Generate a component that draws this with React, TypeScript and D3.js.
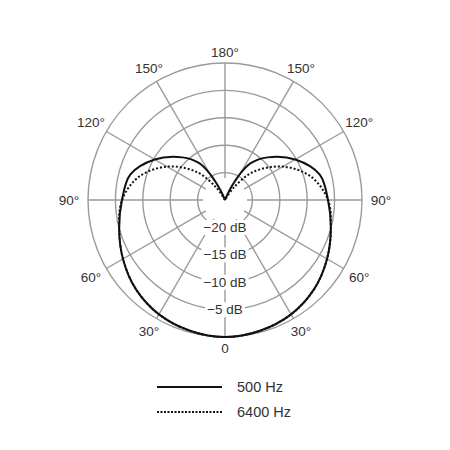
import React, { useRef, useEffect } from 'react';
import * as d3 from 'd3';

// angle measured from the front of the mic (0 = bottom), left/right are mirrored
const angles = [0, 15, 30, 45, 60, 75, 90, 105, 120, 135, 145, 150, 155, 160, 180];
const hz500 = [0, -0.3, -0.9, -2.0, -3.5, -5.0, -6.2, -7.1, -10.2, -14.0, -16.8, -19.5, -23, -25, -25];
const hz6400 = [0, -0.3, -0.9, -2.0, -3.5, -5.0, -6.2, -8.7, -12.8, -17.8, -22.3, -25, -25, -25, -25];

const ringLevels = [-20, -15, -10, -5, 0];
const ringLabels = ['\u221220 dB', '\u221215 dB', '\u221210 dB', '\u22125 dB'];
const spokeAngles = [0, 30, 60, 90, 120, 150, 180, 210, 240, 270, 300, 330];
const angleLabels = [0, 30, 60, 90, 120, 150, 180];

const series = [
  { name: '500 Hz', values: hz500, dash: null },
  { name: '6400 Hz', values: hz6400, dash: '2,2' },
];

const FONT = 'Liberation Sans, Arial, sans-serif';
const GRID = '#9a9a9a';
const TEXT = '#333';

const App: React.FC = () => {
  const svgRef = useRef<SVGSVGElement>(null);

  useEffect(() => {
    if (!svgRef.current) return;
    const svg = d3.select(svgRef.current);
    svg.selectAll('*').remove();

    const cx = 225;
    const cy = 200;
    const r = d3.scaleLinear().domain([-25, 0]).range([0, 137]);
    const toRad = (deg: number) => Math.PI - (deg * Math.PI) / 180;

    svg.append('rect').attr('width', 450).attr('height', 450).attr('fill', '#fff');

    const g = svg.append('g').attr('transform', `translate(${cx},${cy})`);

    // rings
    g.selectAll('circle.ring')
      .data(ringLevels)
      .join('circle')
      .attr('class', 'ring')
      .attr('r', (d) => r(d))
      .attr('fill', 'none')
      .attr('stroke', GRID)
      .attr('stroke-width', 1.4);

    // spokes
    g.selectAll('line.spoke')
      .data(spokeAngles)
      .join('line')
      .attr('class', 'spoke')
      .attr('x1', (d) => r(-21) * Math.sin(toRad(d)))
      .attr('y1', (d) => -r(-21) * Math.cos(toRad(d)))
      .attr('x2', (d) => r(0) * Math.sin(toRad(d)))
      .attr('y2', (d) => -r(0) * Math.cos(toRad(d)))
      .attr('stroke', GRID)
      .attr('stroke-width', 1.4);

    // dB labels on the front axis with white backing
    ringLabels.forEach((label, i) => {
      const y = r(ringLevels[i]);
      const t = g
        .append('text')
        .attr('x', 0)
        .attr('y', y)
        .attr('text-anchor', 'middle')
        .attr('dominant-baseline', 'central')
        .attr('fill', TEXT)
        .style('font-family', FONT)
        .style('font-size', '13.5px')
        .text(label);
      const bb = (t.node() as SVGTextElement).getBBox();
      g.insert('rect', () => t.node())
        .attr('x', bb.x - 2)
        .attr('y', bb.y)
        .attr('width', bb.width + 4)
        .attr('height', bb.height)
        .attr('fill', '#fff');
    });

    // curves
    const line = d3
      .lineRadial<[number, number]>()
      .angle((d) => toRad(d[0]))
      .radius((d) => r(Math.max(-25, d[1])))
      .curve(d3.curveCatmullRom.alpha(0.5));

    series.forEach((s) => {
      const pts: [number, number][] = [];
      for (let i = angles.length - 1; i > 0; i--) pts.push([-angles[i], s.values[i]]);
      for (let i = 0; i < angles.length; i++) pts.push([angles[i], s.values[i]]);
      g.append('path')
        .attr('d', line(pts))
        .attr('fill', 'none')
        .attr('stroke', '#111')
        .attr('stroke-width', 2)
        .attr('stroke-dasharray', s.dash);
    });

    // angle labels
    angleLabels.forEach((a) => {
      const sides = a === 0 || a === 180 ? [1] : [1, -1];
      sides.forEach((side) => {
        const rad = toRad(a * side);
        const lr = 148 + 8 * Math.abs(Math.sin(rad));
        g.append('text')
          .attr('x', lr * Math.sin(rad))
          .attr('y', -lr * Math.cos(rad))
          .attr('text-anchor', 'middle')
          .attr('dominant-baseline', 'central')
          .attr('fill', TEXT)
          .style('font-family', FONT)
          .style('font-size', '13.5px')
          .text(a === 0 ? '0' : `${a}\u00b0`);
      });
    });

    // legend
    const legend = svg.append('g').attr('transform', 'translate(157,387)');
    series.forEach((s, i) => {
      const row = legend.append('g').attr('transform', `translate(0,${i * 25})`);
      row.append('line')
        .attr('x1', 0)
        .attr('x2', 65)
        .attr('stroke', '#111')
        .attr('stroke-width', 2)
        .attr('stroke-dasharray', s.dash ? '2,1.5' : null);
      row.append('text')
        .attr('x', 80)
        .attr('y', 0)
        .attr('dominant-baseline', 'central')
        .attr('fill', TEXT)
        .style('font-family', FONT)
        .style('font-size', '14.5px')
        .text(s.name);
    });
  }, []);

  return (
    <svg
      ref={svgRef}
      width={450}
      height={450}
      style={{ position: 'absolute', left: 0, top: 0 }}
    />
  );
};

export default App;
